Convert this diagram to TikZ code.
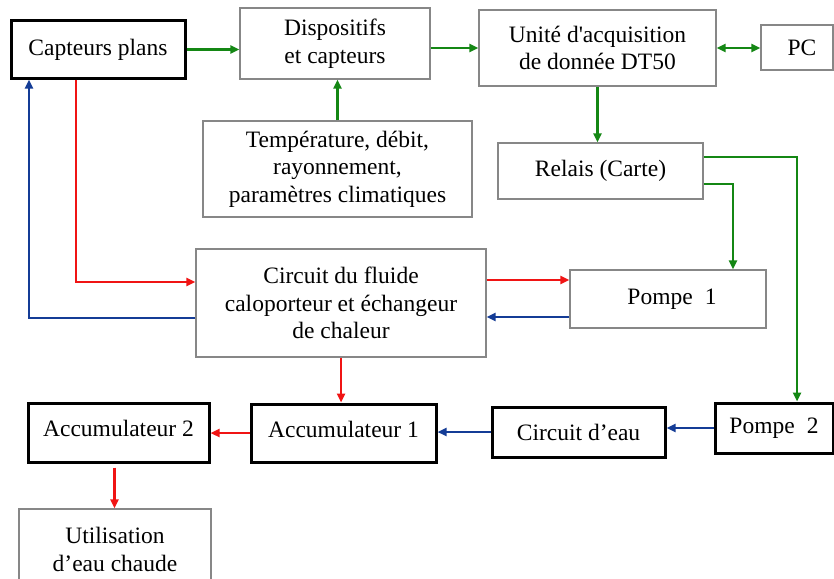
\documentclass[tikz,border=0pt]{standalone}
\usepackage{fontspec}
\setmainfont{Liberation Serif}
\usetikzlibrary{arrows.meta,calc}
\definecolor{grn}{RGB}{20,135,20}
\definecolor{rd}{RGB}{240,20,20}
\definecolor{bl}{RGB}{20,60,150}
\definecolor{gbox}{RGB}{135,135,135}
\tikzset{
  thinbox/.style={draw=gbox,line width=1.4pt,inner sep=0pt,align=center},
  thickbox/.style={draw=black,line width=3pt,inner sep=0pt,align=center},
  tip/.style={-{Triangle[length=9pt,width=8pt]}},
  garrow/.style={draw=grn,line width=2.5pt,tip},
  rarrow/.style={draw=rd,line width=2.5pt,tip},
  barrow/.style={draw=bl,line width=2.5pt,tip},
}
\begin{document}
\begin{tikzpicture}[x=1pt,y=-1pt,font=\fontsize{23.5}{27.5}\selectfont]
\clip (0,0) rectangle (834,578);
\fill[white] (0,0) rectangle (834,578);
\node[thickbox,minimum width=174pt,minimum height=57pt] (cap) at (98,49.5) {Capteurs plans};
\node[thinbox,minimum width=190pt,minimum height=71pt] (disp) at (335,43.5) {Dispositifs\\et capteurs};
\node[thinbox,minimum width=237pt,minimum height=76pt] (unit) at (597.5,48) {Unité d\textquotesingle acquisition\\de donnée DT50};
\node[thinbox,minimum width=72pt,minimum height=45pt] (pc) at (797,47.5) {\hspace{10pt}PC};
\node[thinbox,minimum width=205pt,minimum height=56pt] (relais) at (600.5,171) {\raisebox{5pt}{Relais (Carte)}};
\node[thinbox,minimum width=269pt,minimum height=96pt] (temp) at (337.5,169) {Température, débit,\\rayonnement,\\paramètres climatiques};
\node[thinbox,minimum width=290pt,minimum height=108pt] (fluide) at (341,303) {Circuit du fluide\\caloporteur et échangeur\\de chaleur};
\node[thinbox,minimum width=196pt,minimum height=58pt] (p1) at (668,299) {\hspace{8pt}\raisebox{3pt}{Pompe\hspace{12pt}1}};
\node[thickbox,minimum width=118pt,minimum height=50pt] (p2) at (774,428) {Pompe\hspace{12pt}2};
\node[thickbox,minimum width=173pt,minimum height=50pt] (eau) at (578.5,432) {Circuit d’eau};
\node[thickbox,minimum width=185pt,minimum height=58pt] (acc1) at (343.5,433) {\raisebox{8pt}{Accumulateur 1}};
\node[thickbox,minimum width=181pt,minimum height=59pt] (acc2) at (118.5,432.5) {\raisebox{8pt}{Accumulateur 2}};
\node[thinbox,minimum width=192pt,minimum height=81pt] (util) at (115,549.5) {Utilisation\\d’eau chaude};
% green
\draw[garrow] (cap.east) -- (cap.east -| disp.west);
\draw[garrow] (unit.west -| disp.east) -- (unit.west);
\draw[draw=grn,line width=2.5pt,{Triangle[length=9pt,width=8pt]}-{Triangle[length=9pt,width=8pt]}] (unit.east) -- (unit.east -| pc.west);
\draw[garrow] (unit.south) -- (unit.south |- relais.north);
\draw[garrow] (temp.north) -- (temp.north |- disp.south);
\draw[garrow] ($(relais.east)+(0,13)$) -| ($(p1.north)+(65,0)$);
\draw[garrow] ($(relais.east)+(0,-14)$) -| ($(p2.north)+(23,0)$);
% red
\draw[rarrow] ($(cap.south)+(-22,0)$) |- ($(fluide.west)+(0,-21)$);
\draw[rarrow] ($(fluide.east |- p1.west)+(0,-19)$) -- ($(p1.west)+(0,-19)$);
\draw[rarrow] (fluide.south) -- (fluide.south |- acc1.north);
\draw[rarrow] (acc1.west) -- (acc1.west -| acc2.east);
\draw[rarrow] ($(acc2.south)+(-4,4)$) -- ($(acc2.south |- util.north)+(-4,0)$);
% blue
\draw[barrow] ($(fluide.west)+(0,15)$) -| ($(cap.south)+(-69,0)$);
\draw[barrow] ($(p1.west)+(0,18)$) -- ($(fluide.east |- p1.west)+(0,18)$);
\draw[barrow] (p2.west) -- (p2.west -| eau.east);
\draw[barrow] (eau.west) -- (eau.west -| acc1.east);
\end{tikzpicture}
\end{document}
